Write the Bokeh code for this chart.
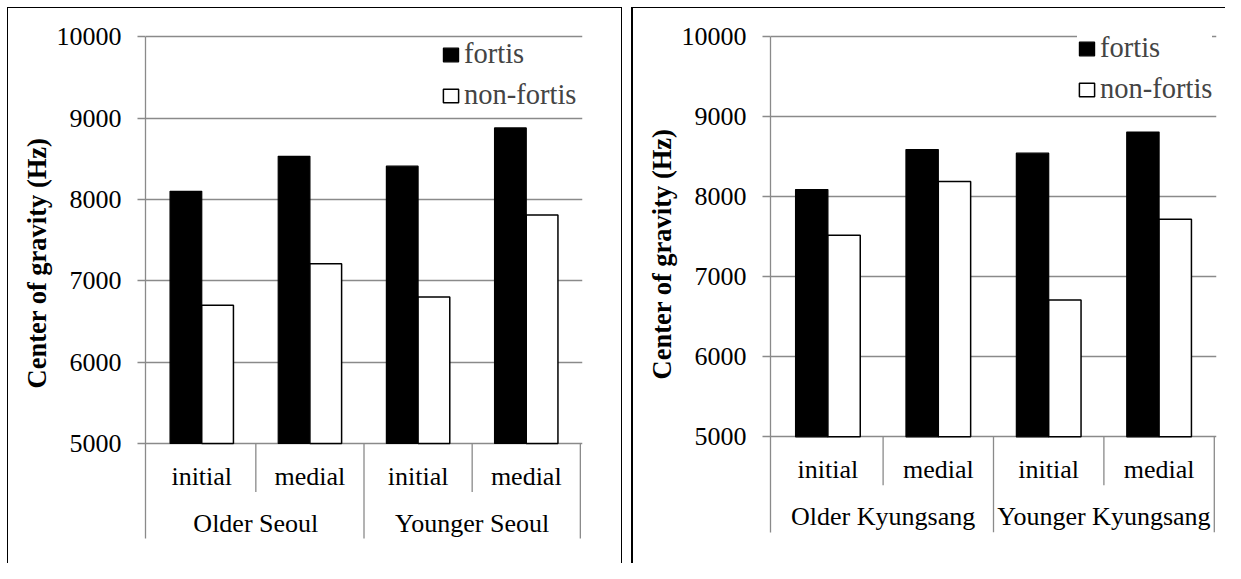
from bokeh.plotting import figure
from bokeh.models import (FactorRange, Range1d, FixedTicker, Legend, LegendItem,
                          Title, ColumnDataSource, Spacer)
from bokeh.layouts import row, column
from bokeh.transform import dodge
from bokeh.core.properties import value
from bokeh.embed import file_html
from bokeh.resources import INLINE

# ---------------- data ----------------
positions = ["initial", "medial"]
series_names = ["fortis", "non-fortis"]
y_ticks = [5000, 6000, 7000, 8000, 9000, 10000]
y_title = "Center of gravity (Hz)"

seoul_groups = ["Older Seoul", "Younger Seoul"]
seoul_fortis = [8100, 8530, 8410, 8880]
seoul_nonfortis = [6700, 7210, 6800, 7810]

kyung_groups = ["Older Kyungsang", "Younger Kyungsang"]
kyung_fortis = [8090, 8590, 8545, 8810]
kyung_nonfortis = [7520, 8190, 6710, 7720]

# ---------------- style / layout ----------------
SERIF = "Liberation Serif, Times New Roman, Times, serif"
FS = "26px"
LEG_FS = "28.5px"
GRID = "#8a8a8a"
FIG_TOP = 7            # page px of figure top
HEIGHT = 556
MB_TOP = 13            # frame top at page px 20
MB_BOTTOM = 26         # frame bottom at page px 537
SUB_LABEL_PX = 33      # centre of "initial"/"medial" below the base line
GROUP_LABEL_PX = 80    # centre of group labels below the base line
INNER_SEP_PX = 48.5    # length of inner separators
OUTER_SEP_PX = 95.5    # length of outer separators
BAR_W = 0.293


def make_panel(groups, fortis, nonfortis, width, mb_left, mb_right,
               top_tick_px, base_px, legend_xy, title_offset, styles):
    """top_tick_px / base_px: page px of the top tick line and the base line."""
    factors = [(g, pos) for g in groups for pos in positions]
    x_range = FactorRange(*factors, factor_padding=0, group_padding=0,
                          range_padding=0.02, range_padding_units="absolute")
    frame_top = FIG_TOP + MB_TOP
    frame_bottom = FIG_TOP + HEIGHT - MB_BOTTOM
    ppu = (base_px - top_tick_px) / (y_ticks[-1] - y_ticks[0])
    y_end = y_ticks[-1] + (top_tick_px - frame_top) / ppu
    y0 = y_ticks[0] - (frame_bottom - base_px) / ppu
    y_outer = y_ticks[0] - OUTER_SEP_PX / ppu
    p = figure(x_range=x_range, y_range=Range1d(y0, y_end),
               width=width, height=HEIGHT, x_axis_location=None,
               toolbar_location=None, output_backend="svg",
               min_border_left=mb_left, min_border_right=mb_right,
               min_border_top=MB_TOP, min_border_bottom=MB_BOTTOM,
               styles=styles)
    p.outline_line_color = None
    p.background_fill_color = "white"
    p.border_fill_color = "white"

    # grid
    p.xgrid.visible = False
    p.ygrid.ticker = FixedTicker(ticks=y_ticks)
    p.ygrid.grid_line_color = GRID
    p.ygrid.grid_line_width = 1.3

    # y axis (its line continues down as the leftmost category separator)
    ax = p.yaxis[0]
    ax.ticker = FixedTicker(ticks=y_ticks)
    ax.bounds = (y_outer, y_ticks[-1])
    ax.axis_line_color = GRID
    ax.axis_line_width = 1.3
    ax.major_tick_line_color = GRID
    ax.major_tick_line_width = 1.3
    ax.major_tick_out = 8
    ax.major_tick_in = 0
    ax.minor_tick_line_color = None
    ax.major_label_text_font = SERIF
    ax.major_label_text_font_size = FS
    ax.major_label_text_color = "black"
    ax.major_label_standoff = 16

    src = ColumnDataSource(dict(x=factors, fortis=fortis, nonfortis=nonfortis))
    r1 = p.vbar(x=dodge("x", -BAR_W / 2, range=x_range), top="fortis",
                bottom=y_ticks[0], width=BAR_W, fill_color="black",
                line_color="black", line_width=1.2, source=src)
    r2 = p.vbar(x=dodge("x", BAR_W / 2, range=x_range), top="nonfortis",
                bottom=y_ticks[0], width=BAR_W, fill_color="white",
                line_color="black", line_width=1.5, source=src)

    # category separators (synthetic coordinates of factor boundaries)
    n = len(factors)
    per = len(positions)
    bx = [b for b in range(1, n + 1)]
    by1 = [y_outer if b % per == 0 else y_ticks[0] - INNER_SEP_PX / ppu
           for b in bx]
    p.segment(x0=bx, y0=[y_ticks[0]] * len(bx), x1=bx, y1=by1,
              line_color=GRID, line_width=1.3)

    # category labels
    p.text(x=factors, y=[y_ticks[0] - SUB_LABEL_PX / ppu] * n,
           text=[f[1] for f in factors], text_align="center",
           text_baseline="middle", text_font=value(SERIF),
           text_font_size=FS, text_color="black")
    p.text(x=groups, y=[y_ticks[0] - GROUP_LABEL_PX / ppu] * len(groups),
           text=groups, text_align="center", text_baseline="middle",
           text_font=value(SERIF), text_font_size=FS, text_color="black")

    # legend
    legend = Legend(items=[LegendItem(label=series_names[0], renderers=[r1]),
                           LegendItem(label=series_names[1], renderers=[r2])],
                    location=legend_xy)
    legend.label_text_font = SERIF
    legend.label_text_font_size = LEG_FS
    legend.glyph_width = 19
    legend.glyph_height = 17
    legend.label_standoff = 4
    legend.label_height = 32
    legend.spacing = 9
    legend.padding = 6
    legend.margin = 0
    legend.border_line_color = None
    legend.background_fill_color = "white"
    legend.background_fill_alpha = 1
    p.add_layout(legend)

    # y title
    p.add_layout(Title(text=y_title, align="left", offset=title_offset,
                       text_font=SERIF, text_font_style="bold",
                       text_font_size="26.5px", text_color="black",
                       standoff=4), "left")
    return p


p1 = make_panel(seoul_groups, seoul_fortis, seoul_nonfortis, width=615,
                mb_left=137, mb_right=41, top_tick_px=35.3, base_px=442,
                legend_xy=(296, 427), title_offset=150,
                styles={"border-left": "1.5px solid black",
                        "border-top": "1.5px solid black",
                        "border-right": "1.5px solid black"})
p2 = make_panel(kyung_groups, kyung_fortis, kyung_nonfortis, width=594,
                mb_left=137, mb_right=11, top_tick_px=35.3, base_px=435.3,
                legend_xy=(307, 433), title_offset=159,
                styles={"border-left": "2px solid black",
                        "border-top": "1.5px solid black"})

layout = column(Spacer(height=FIG_TOP),
                row(Spacer(width=7), p1, Spacer(width=9), p2))
open("out.html", "w").write(file_html(layout, INLINE))
